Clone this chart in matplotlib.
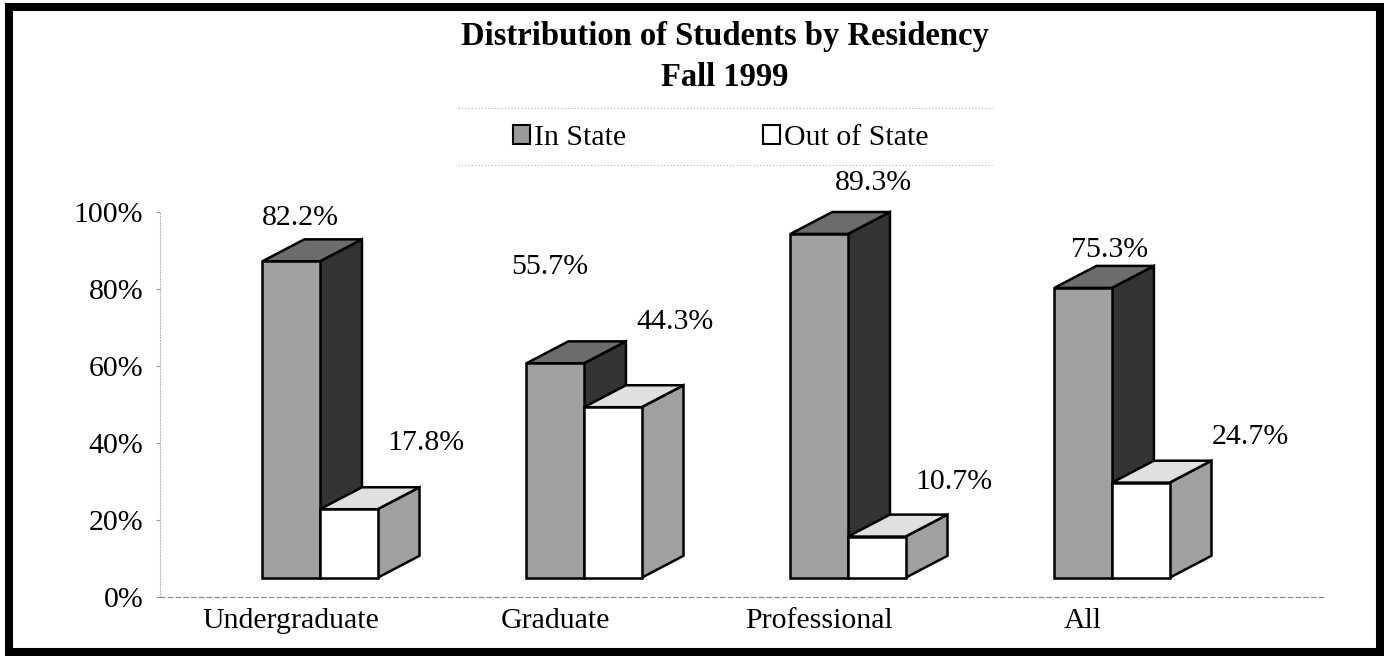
import matplotlib
matplotlib.use("Agg")
from matplotlib import pyplot as plt
from matplotlib.patches import Polygon, Rectangle, Patch
from matplotlib.lines import Line2D

categories = ["Undergraduate", "Graduate", "Professional", "All"]
in_state = [82.2, 55.7, 89.3, 75.3]
out_state = [17.8, 44.3, 10.7, 24.7]
y_ticks = [0, 20, 40, 60, 80, 100]

# label placement offsets from the bar's front-face centre
# (x in category units, y in % above the bar top)
in_label_off = [(0.033, 11.3), (-0.02, 25.1), (0.204, 13.3), (0.10, 9.9)]
out_label_off = [(0.293, 17.3), (0.236, 22.2), (0.293, 14.2), (0.414, 11.9)]

# 3D look
bar_w = 0.218
depth_x = 0.159
depth_y = 5.7
floor = -5.0
in_colors = dict(front="#a0a0a0", top="#6c6c6c", side="#333333")
out_colors = dict(front="#ffffff", top="#e0e0e0", side="#a0a0a0")

plt.rcParams['font.family'] = ['Liberation Serif', 'DejaVu Serif']

W, H = 1384, 656
fig = plt.figure(figsize=(W / 100, H / 100), dpi=100)
ax = fig.add_axes([160 / W, 59 / H, 1165 / W, 457 / H])


def draw_box(ax, x0, h, colors):
    x1 = x0 + bar_w
    side = [(x1, 0), (x1 + depth_x, depth_y), (x1 + depth_x, h + depth_y), (x1, h)]
    top = [(x0, h), (x1, h), (x1 + depth_x, h + depth_y), (x0 + depth_x, h + depth_y)]
    front = [(x0, 0), (x1, 0), (x1, h), (x0, h)]
    for pts, c in ((side, colors["side"]), (top, colors["top"]),
                   (front, colors["front"])):
        ax.add_patch(Polygon(pts, closed=True, facecolor=c, edgecolor="black",
                             linewidth=1.8, joinstyle="miter"))


for i, (a, b) in enumerate(zip(in_state, out_state)):
    draw_box(ax, i - bar_w, a, in_colors)
    draw_box(ax, i, b, out_colors)
    ax.text(i - bar_w / 2 + in_label_off[i][0], a + in_label_off[i][1],
            "{:.1f}%".format(a), ha="center", va="center", fontsize=21.5)
    ax.text(i + bar_w / 2 + out_label_off[i][0], b + out_label_off[i][1],
            "{:.1f}%".format(b), ha="center", va="center", fontsize=21.5)

ax.set_xlim(-0.606, 3.807)
ax.set_ylim(floor, floor + 457 / 3.85)

ax.set_yticks([v + floor for v in y_ticks])
ax.set_yticklabels(["{}%".format(v) for v in y_ticks], fontsize=21.5)
ax.set_xticks([i - bar_w / 2 for i in range(len(categories))])
ax.set_xticklabels(categories, fontsize=21.5)
ax.tick_params(axis="x", length=0, pad=8)
ax.tick_params(axis="y", length=3, color="#999999", pad=9)

for s in ("top", "right"):
    ax.spines[s].set_visible(False)
ax.spines["bottom"].set_color("#888888")
ax.spines["bottom"].set_linestyle((0, (4, 3)))
ax.spines["bottom"].set_linewidth(0.8)
ax.spines["left"].set_color("#bbbbbb")
ax.spines["left"].set_linestyle(":")
ax.spines["left"].set_linewidth(0.8)
ax.spines["left"].set_bounds(floor, 100 + floor)

handles = [Patch(facecolor="#9a9a9a", edgecolor="black", linewidth=1.5, label="In State"),
           Patch(facecolor="white", edgecolor="black", linewidth=1.5, label="Out of State")]
fig.legend(handles=handles, loc="center", bbox_to_anchor=(721 / W, 1 - 138 / H),
           ncol=2, fontsize=21.5, handlelength=0.55, handleheight=0.6,
           handletextpad=0.15, columnspacing=4.6, frameon=False)
# faint dotted border of the legend box (only top and bottom survive)
for yy in (108, 165):
    fig.lines.append(Line2D([458 / W, 992 / W], [1 - yy / H, 1 - yy / H],
                            transform=fig.transFigure, color="#bbbbbb",
                            linestyle=":", linewidth=0.9))

fig.text(725 / W, 1 - 37 / H, "Distribution of Students by Residency",
         ha="center", va="center", fontsize=23.5, fontweight="bold")
fig.text(725 / W, 1 - 77 / H, "Fall 1999",
         ha="center", va="center", fontsize=23.5, fontweight="bold")

fig.patches.append(Rectangle((9 / W, 4 / H), 1371 / W, 645 / H,
                             transform=fig.transFigure, fill=False,
                             edgecolor="black", linewidth=5.8))

fig.savefig("out.png", dpi=100)
